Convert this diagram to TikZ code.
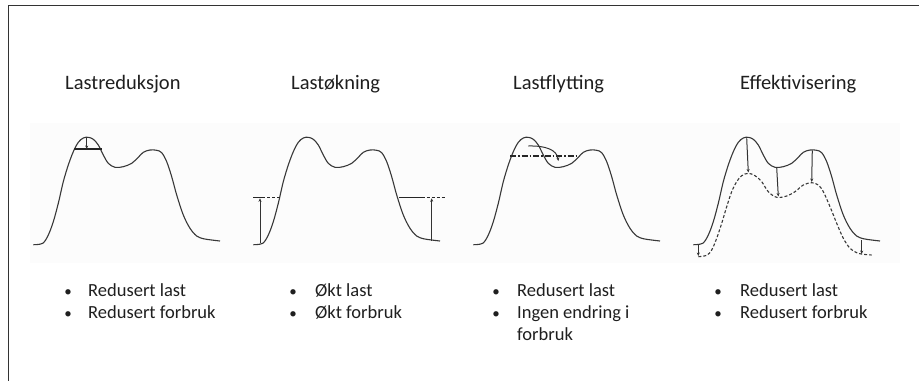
\documentclass[tikz,border=0pt]{standalone}
\usepackage{fontspec}
\setmainfont{Carlito}
\usetikzlibrary{arrows.meta}

% load profile, relative to its left foot (x) and the base line y = 245 (y)
\newcommand\loadprofile{plot[smooth,tension=0.55] coordinates {
 (0,-0.3) (9.4,-1.7) (15,-10) (20,-23.3) (25,-41.7) (30,-63.3) (35,-80)
 (40,-93.3) (45,-102.7) (50,-107) (55,-107.7) (60,-105.7) (65,-100)
 (70,-90) (75,-81.7) (81.7,-77.7) (90,-78.3) (98.4,-81.7) (105,-87.7)
 (110,-92.7) (116.7,-95) (123.4,-94.7) (128.4,-92.3) (133.4,-83.3)
 (138.4,-68.3) (143.4,-50) (150,-30) (156.7,-16.7) (163.4,-9) (170,-6.3)
 (178.4,-5) (186.7,-4)}}

\begin{document}
\begin{tikzpicture}[x=1pt,y=-1pt,
  curve/.style={draw=black!78,line width=1.1pt},
  thick bar/.style={draw=black!85,line width=2pt},
  marker/.style={draw=black!80,line width=1pt,-{Stealth[length=3.5pt,width=3pt]}},
  title/.style={anchor=base west,font=\fontsize{20.5}{24}\selectfont,text=black!88,inner sep=0pt},
  item/.style={anchor=base west,font=\fontsize{18.5}{22}\selectfont,text=black!88,inner sep=0pt},
  dot/.style={anchor=base,font=\fontsize{15}{18}\selectfont,text=black!88,inner sep=0pt}]
\useasboundingbox (0,0) rectangle (919,381);
\fill[white] (0,0) rectangle (919,381);
% faint panel behind the four graphs
\fill[black!1.3] (30,123) rectangle (900,263);

% frame
\coordinate (fTR) at (919,5.7);
\coordinate (fTL) at (8.3,5.7);
\coordinate (fBL) at (8.3,381);
\draw[black!80,line width=1.4pt] (fTR) -- (fTL) -- (fBL);

% headings
\node[title] (h1) at (65,89) {Lastreduksjon};
\node[title] (h2) at (291,89) {Lastøkning};
\node[title] (h3) at (513,89) {Lastflytting};
\node[title] (h4) at (740,89) {Effektivisering};

% ---- Lastreduksjon
\draw[curve] [shift={(33.3,245)}] \loadprofile;
\coordinate (r1a) at (74.3,149.3);
\coordinate (r1b) at (101.7,149.3);
\coordinate (r1top) at (86.7,137.8);
\coordinate (r1bot) at (86.7,149);
\draw[thick bar] (r1a) -- (r1b);
\draw[marker] (r1top) -- (r1bot);

% ---- Lastøkning
\draw[curve] [shift={(253.3,245)}] \loadprofile;
\coordinate (o1a) at (253.3,197.3);
\coordinate (o1m) at (262,197.3);
\coordinate (o1b) at (281,197.3);
\coordinate (o2a) at (399.3,197.3);
\coordinate (o2m) at (421.7,197.3);
\coordinate (o2b) at (445,197.3);
\draw[black!85,line width=1.4pt] (o1a) -- (o1m) (o2a) -- (o2m);
\draw[black!85,line width=1.4pt,dash pattern=on 3pt off 2pt] (o1m) -- (o1b) (o2m) -- (o2b);
\coordinate (o1lo) at (260,243.3);
\coordinate (o1hi) at (260,198.3);
\coordinate (o2lo) at (431.7,240.7);
\coordinate (o2hi) at (431.7,198.3);
\draw[marker] (o1lo) -- (o1hi);
\draw[marker] (o2lo) -- (o2hi);

% ---- Lastflytting
\draw[curve] [shift={(473.3,245)}] \loadprofile;
\coordinate (f1a) at (510,155.7);
\coordinate (f1b) at (576.7,155.7);
\draw[black!85,line width=1.8pt,dash pattern=on 6pt off 2pt on 1.5pt off 2pt] (f1a) -- (f1b);
\coordinate (fs) at (528.3,146);
\coordinate (fe) at (558.3,161);
\draw[marker] (fs) .. controls (546,145.5) and (557,150) .. (fe);

% ---- Effektivisering
\draw[curve] [shift={(693.3,245)}] \loadprofile;
\draw[curve,dashed,dash pattern=on 3pt off 2pt]
  plot[smooth,tension=0.55] coordinates {
  (698.3,256.7) (706.7,255.3) (711.7,250) (716.7,238.3) (721.7,223.3)
  (726.7,206.7) (731.7,191.7) (736.7,181.7) (741.7,175.7) (748.3,173.3)
  (755,175.7) (761.7,181.7) (768.3,191.7) (776.7,197.3) (786.7,196)
  (795,191.7) (803.3,185) (811.7,182.7) (818.3,185) (823.3,191.7)
  (830,206.7) (836.7,223.3) (843.3,238.3) (850,248.3) (856.7,252.7)
  (863.3,254.3) (871.7,255)};
\coordinate (e1t) at (746.7,138.3);
\coordinate (e1b) at (748.3,172.5);
\coordinate (e2t) at (776.7,167.6);
\coordinate (e2b) at (778.3,196.5);
\coordinate (e3t) at (812.3,150.3);
\coordinate (e3b) at (811.7,182);
\coordinate (e4t) at (698.3,245);
\coordinate (e4b) at (698.3,256);
\coordinate (e5t) at (861.7,240.3);
\coordinate (e5b) at (861.7,254);
\foreach \a/\b in {e1t/e1b,e2t/e2b,e3t/e3b,e4t/e4b,e5t/e5b}
  \draw[marker] (\a) -- (\b);

% bullet lists
\node[dot] (d11) at (68,296) {•};
\node[item] (t11) at (88,296) {Redusert last};
\node[dot] (d12) at (68,318) {•};
\node[item] (t12) at (88,318) {Redusert forbruk};

\node[dot] (d21) at (293,296) {•};
\node[item] (t21) at (315,296) {Økt last};
\node[dot] (d22) at (293,318) {•};
\node[item] (t22) at (315,318) {Økt forbruk};

\node[dot] (d31) at (496,296) {•};
\node[item] (t31) at (517,296) {Redusert last};
\node[dot] (d32) at (496,318) {•};
\node[item] (t32) at (517,318) {Ingen endring i};
\node[item] (t33) at (517,340) {forbruk};

\node[dot] (d41) at (718,296) {•};
\node[item] (t41) at (740,296) {Redusert last};
\node[dot] (d42) at (718,318) {•};
\node[item] (t42) at (740,318) {Redusert forbruk};
\end{tikzpicture}
\end{document}
